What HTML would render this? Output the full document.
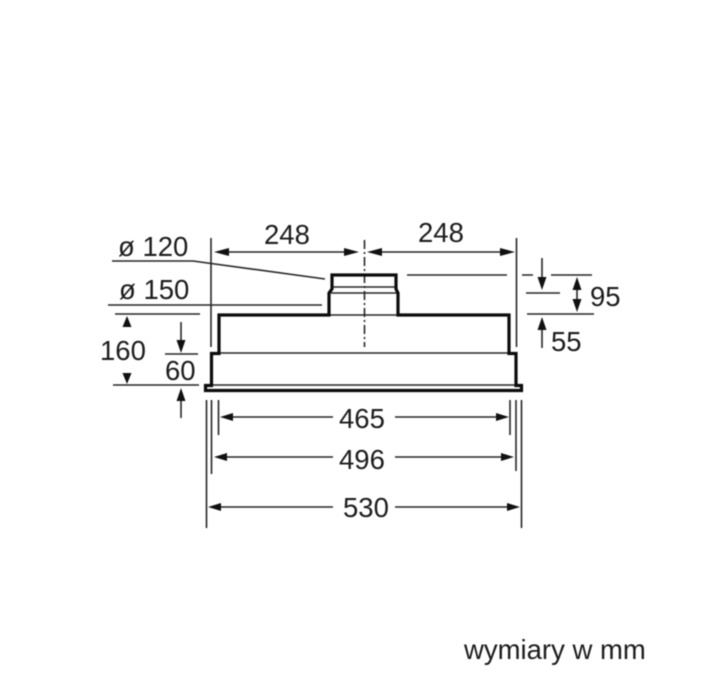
<!DOCTYPE html>
<html><head><meta charset="utf-8"><style>
html,body{margin:0;padding:0;background:#fff}
svg{display:block;filter:blur(.45px)}
text{font-family:"Liberation Sans",sans-serif;font-size:27.500px;fill:#1c1c1c}
</style></head><body>
<svg width="723" height="700" viewBox="0 0 723 700" xmlns="http://www.w3.org/2000/svg">
<g fill="none" stroke="#262626" stroke-width="1.600">
<path d="M211 238V347M516.500 238V347"/>
<path d="M226 252H349M379 252H502"/>
<path d="M364.500 240V347" stroke-dasharray="9 3 2 3"/>
<path d="M112 261H193L325 279M108 305H322M115 314H200M113 385H199M165 354H198"/>
<path d="M407 275H507M522 275H533M551 275H592M526 293H560M527 314H594"/>
<path d="M329 315H398M333 287H396M331 293H398M219 353H510M211 385H516"/>
<path d="M206.500 400V528M211.500 400V474M218.500 400V435M510 400V435M516 400V471M521.500 400V528"/>
<path d="M230 417H333M395 417H500M224 457H333M395 457H504M218 507H333M395 507H510"/>
<path d="M181 322V342M181 399V418M542 258V280M542 327V348M577 285V305"/>
</g>
<path d="M205.500 390.500V385.500H211.500V353.500H219V315H329V293L332 289V275H396V289L398 293V315H509V353.500H516V385.500H521.500V390.500Z" fill="none" stroke="#0c0c0c" stroke-width="3.200"/>
<g fill="#111">
<path d="M214 252L229 248V256ZM359 252L344 248V256ZM367 252L382 248V256ZM515 252L500 248V256Z"/>
<path d="M127 316L131.500 327H122.500ZM127 384L122.500 373H131.500Z"/>
<path d="M181 353L176.500 340H185.500ZM181 388L176.500 401H185.500Z"/>
<path d="M542 290L537.500 277H546.500ZM542 317L537.500 330H546.500ZM577 277L572.500 290H581.500ZM577 312L572.500 299H581.500Z"/>
<path d="M220 417L233 413V421ZM509 417L496 413V421ZM214 457L227 453V461ZM514 457L501 453V461ZM208 507L221 503V511ZM520 507L507 503V511Z"/>
</g>
<text x="264" y="244">248</text>
<text x="418" y="242">248</text>
<text x="118" y="256">ø 120</text>
<text x="119" y="299">ø 150</text>
<text x="100" y="360">160</text>
<text x="165" y="380">60</text>
<text x="590" y="306">95</text>
<text x="551" y="351">55</text>
<text x="339" y="428">465</text>
<text x="339" y="469">496</text>
<text x="343" y="517">530</text>
<text x="464" y="659">wymiary w mm</text>
</svg>
</body></html>
